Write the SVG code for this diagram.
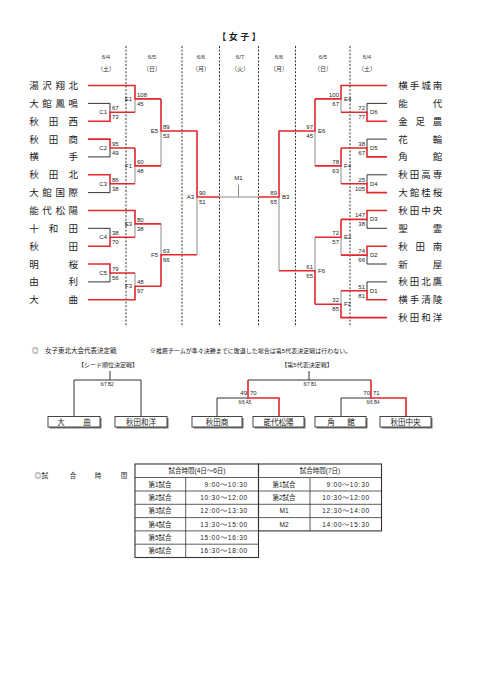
<svg xmlns="http://www.w3.org/2000/svg" width="481" height="680" viewBox="0 0 481 680">
<style>
text{font-family:"Liberation Sans","Noto Sans CJK JP",sans-serif;fill:#222}
.t{font-size:9.5px;text-anchor:middle}
.s{font-size:6px;fill:#333}
.e{text-anchor:end}
.m{text-anchor:middle}
.d{font-size:6px;text-anchor:middle;fill:#333}
.r{stroke:#e3262c;stroke-width:1.6;fill:none}
.k{stroke:#333;stroke-width:1;fill:none}
.g{stroke:#8c8c8c;stroke-width:1;fill:none}
.dot{stroke:#333;stroke-width:1;stroke-dasharray:2 1.6;fill:none}
.bx{fill:#fff;stroke:#333;stroke-width:0.9}
.sh{fill:#777}
.bt{font-size:7.5px;text-anchor:middle}
.tb{fill:none;stroke:#333;stroke-width:0.8}
.tt{font-size:6.5px}
.tm{font-size:6.5px;text-anchor:end;letter-spacing:0.8px}
</style>

<g id="header">
<text x="239" y="40" style="font-size:9px;font-weight:bold" class="m">【 女 子 】</text>
<g class="dot">
<path d="M126 46V327M182 46V327M219.5 46V327M258.5 46V327M295.5 46V327M350 46V327"/>
</g>
<text class="d" x="106" y="59">6/4</text><text class="d" x="106" y="71">（土）</text>
<text class="d" x="152" y="59">6/5</text><text class="d" x="152" y="71">（日）</text>
<text class="d" x="201" y="59">6/6</text><text class="d" x="201" y="71">（月）</text>
<text class="d" x="240" y="59">6/7</text><text class="d" x="240" y="71">（火）</text>
<text class="d" x="279" y="59">6/6</text><text class="d" x="279" y="71">（月）</text>
<text class="d" x="323" y="59">6/5</text><text class="d" x="323" y="71">（日）</text>
<text class="d" x="367" y="59">6/4</text><text class="d" x="367" y="71">（土）</text>
</g>

<g id="connectors">
<path class="k" d="M88 103.4H110V112.3M88 156.9H110V148M88 192.6H110V183.7M88 228.3H110V237.25M88 281.9H110V272.95"/>
<path class="g" d="M135 98.9V112.3M135 165.85V183.7M161 131V165.85M197 197V254.8M135 223.9V237.25M135 272.95V286.3M161 223.9V254.8M219.5 197H258.5M238.5 185V197"/>
<path class="r" d="M88 85.5H135V98.9H161M88 121.2H110V112.3H135M88 139.1H110V148H135M88 174.8H110V183.7H135M135 148V165.85H161M161 98.9V131H197V197H219.5M88 210.5H135V223.9H161M88 246.2H110V237.25H135M88 264H110V272.95H135M88 299.7H135V286.3H161M161 286.3V254.8H197"/>
<path class="k" d="M387 103.4H367V112.3M387 139.1H367V148M387 174.8H367V183.7M387 228.3H367V219.4M387 264H367V255.1M387 281.9H367V290.8"/>
<path class="g" d="M341 98.9V112.3M341 165.85V183.7M315 131V165.85M279 197V270.7M341 237.25V255.1M341 290.8V304.2M315 237.25V270.7"/>
<path class="r" d="M387 85.5H341V98.9H315M387 121.2H367V112.3H341M387 156.9H367V148H341M387 192.6H367V183.7H341M341 148V165.85H315M315 98.9V131H279V197H258.5M387 210.5H367V219.4H341M387 246.2H367V255.1H341M341 219.4V237.25H315M387 299.7H367V290.8H341M387 317.6H341V304.2H315M315 304.2V270.7H279"/>
</g>

<g id="scores" class="s">
<text x="112" y="110.3">67</text><text x="112" y="119.3">73</text>
<text x="112" y="146">95</text><text x="112" y="155">49</text>
<text x="112" y="181.7">86</text><text x="112" y="190.7">38</text>
<text x="112" y="235.25">38</text><text x="112" y="244.25">70</text>
<text x="112" y="270.95">79</text><text x="112" y="279.95">56</text>
<text x="137" y="96.9">108</text><text x="137" y="105.9">45</text>
<text x="137" y="163.85">60</text><text x="137" y="172.85">48</text>
<text x="137" y="221.9">80</text><text x="137" y="230.9">38</text>
<text x="137" y="284.3">48</text><text x="137" y="293.3">97</text>
<text x="163" y="129">89</text><text x="163" y="138">53</text>
<text x="163" y="252.8">63</text><text x="163" y="261.8">66</text>
<text x="199" y="195">90</text><text x="199" y="204">51</text>
<g class="e">
<text x="107" y="114.3">C1</text><text x="107" y="150">C2</text><text x="107" y="185.7">C3</text><text x="107" y="239.25">C4</text><text x="107" y="274.95">C5</text>
<text x="132" y="100.9">E1</text><text x="132" y="167.85">F1</text><text x="132" y="225.9">E3</text><text x="132" y="288.3">F3</text>
<text x="158" y="133">E5</text><text x="158" y="256.8">F5</text>
<text x="194" y="199">A3</text>
<text x="365" y="110.3">72</text><text x="365" y="119.3">77</text>
<text x="365" y="146">38</text><text x="365" y="155">67</text>
<text x="365" y="181.7">25</text><text x="365" y="190.7">105</text>
<text x="365" y="217.4">147</text><text x="365" y="226.4">38</text>
<text x="365" y="253.1">74</text><text x="365" y="262.1">66</text>
<text x="365" y="288.8">51</text><text x="365" y="297.8">81</text>
<text x="339" y="96.9">100</text><text x="339" y="105.9">67</text>
<text x="339" y="163.85">78</text><text x="339" y="172.85">63</text>
<text x="339" y="235.25">72</text><text x="339" y="244.25">57</text>
<text x="339" y="302.2">32</text><text x="339" y="311.2">85</text>
<text x="313" y="129">97</text><text x="313" y="138">45</text>
<text x="313" y="268.7">61</text><text x="313" y="277.7">65</text>
<text x="277" y="195">89</text><text x="277" y="204">65</text>
</g>
<text x="370" y="114.3">D6</text><text x="370" y="150">D5</text><text x="370" y="185.7">D4</text><text x="370" y="221.4">D3</text><text x="370" y="257.1">D2</text><text x="370" y="292.8">D1</text>
<text x="344" y="100.9">E4</text><text x="344" y="167.85">F4</text><text x="344" y="239.25">E2</text><text x="344" y="306.2">F2</text>
<text x="318" y="133">E6</text><text x="318" y="272.7">F6</text>
<text x="282" y="199">B3</text>
<text x="238.5" y="180" class="m">M1</text>
</g>

<g id="teams-left" class="t">
<g id="t-yuzawashohoku"><text x="34 47 60.2 73.3" y="89">湯沢翔北</text></g>
<g id="t-odatehomei"><text x="34 47 60.2 73.3" y="106.9">大館鳳鳴</text></g>
<g id="t-akitanishi"><text x="34 53.6 73.3" y="124.7">秋田西</text></g>
<g id="t-akitasho"><text x="34 53.6 73.3" y="142.6">秋田商</text></g>
<g id="t-yokote"><text x="34 73.3" y="160.4">横手</text></g>
<g id="t-akitakita"><text x="34 53.6 73.3" y="178.3">秋田北</text></g>
<g id="t-odatekokusai"><text x="34 47 60.2 73.3" y="196.1">大館国際</text></g>
<g id="t-noshiroshoyo"><text x="34 47 60.2 73.3" y="214">能代松陽</text></g>
<g id="t-towada"><text x="34 53.6 73.3" y="231.8">十和田</text></g>
<g id="t-akita"><text x="34 73.3" y="249.7">秋田</text></g>
<g id="t-meio"><text x="34 73.3" y="267.5">明桜</text></g>
<g id="t-yuri"><text x="34 73.3" y="285.4">由利</text></g>
<g id="t-omagari"><text x="34 73.3" y="303.2">大曲</text></g>
</g>

<g id="teams-right" class="t">
<g id="t-yokotejonan"><text x="403 414.5 426 437.5" y="89">横手城南</text></g>
<g id="t-noshiro"><text x="403 437.5" y="106.9">能代</text></g>
<g id="t-kanaashino"><text x="403 420.2 437.5" y="124.7">金足農</text></g>
<g id="t-hanawa"><text x="403 437.5" y="142.6">花輪</text></g>
<g id="t-kakunodate"><text x="403 437.5" y="160.4">角館</text></g>
<g id="t-akitakosen"><text x="403 414.5 426 437.5" y="178.3">秋田高専</text></g>
<g id="t-odatekeio"><text x="403 414.5 426 437.5" y="196.1">大館桂桜</text></g>
<g id="t-akitachuo"><text x="403 414.5 426 437.5" y="214">秋田中央</text></g>
<g id="t-seirei"><text x="403 437.5" y="231.8">聖霊</text></g>
<g id="t-akitaminami"><text x="403 420.2 437.5" y="249.7">秋田南</text></g>
<g id="t-araya"><text x="403 437.5" y="267.5">新屋</text></g>
<g id="t-akitahokuyo"><text x="403 414.5 426 437.5" y="285.4">秋田北鷹</text></g>
<g id="t-yokoteseiryo"><text x="403 414.5 426 437.5" y="303.2">横手清陵</text></g>
<g id="t-akitawayo"><text x="403 414.5 426 437.5" y="321.1">秋田和洋</text></g>
</g>

<g id="rep-section">
<text x="32" y="352.5" style="font-size:6.5px">◎　女子東北大会代表決定戦</text>
<text x="150" y="352.5" style="font-size:6px">※推薦チームが準々決勝までに敗退した場合は第5代表決定戦は行わない。</text>
<text x="108" y="366.5" class="m" style="font-size:6px">【シード順位決定戦】</text>
<text x="307" y="366.5" class="m" style="font-size:6px">【第5代表決定戦】</text>
<g id="rep-connectors">
<path class="k" d="M110 371V380M74 416.5V380H141V416.5"/>
<path class="k" d="M309 371V380M248 380H371M217 416.5V398H248M341 416.5V398H371"/>
<path class="r" d="M248 380V398H279V416.5M371 380V398H406V416.5"/>
</g>
<g class="s m" style="font-size:4.5px">
<text x="107" y="385.5">6/7  B2</text>
<text x="310" y="385.5">6/7  B1</text>
<text x="245" y="403.5">6/6  A5</text>
<text x="373" y="403.5">6/6  B4</text>
</g>
<g class="s">
<text x="247" y="394.5" class="e">49</text><text x="250" y="394.5">70</text>
<text x="370" y="394.5" class="e">70</text><text x="373" y="394.5">71</text>
</g>
<g id="b-omagari"><rect class="sh" x="49.5" y="418" width="52" height="10.5"/><rect class="bx" x="48" y="416.5" width="52" height="10.5"/><text class="bt" x="61 87" y="424.8">大曲</text></g>
<g id="b-akitawayo"><rect class="sh" x="116.5" y="418" width="52" height="10.5"/><rect class="bx" x="115" y="416.5" width="52" height="10.5"/><text class="bt" x="141" y="424.8">秋田和洋</text></g>
<g id="b-akitasho"><rect class="sh" x="193.5" y="418" width="50" height="10.5"/><rect class="bx" x="192" y="416.5" width="50" height="10.5"/><text class="bt" x="217" y="424.8">秋田商</text></g>
<g id="b-noshiroshoyo"><rect class="sh" x="254.5" y="418" width="51" height="10.5"/><rect class="bx" x="253" y="416.5" width="51" height="10.5"/><text class="bt" x="278.5" y="424.8">能代松陽</text></g>
<g id="b-kakunodate"><rect class="sh" x="316.5" y="418" width="51" height="10.5"/><rect class="bx" x="315" y="416.5" width="51" height="10.5"/><text class="bt" x="331 351" y="424.8">角館</text></g>
<g id="b-akitachuo"><rect class="sh" x="381.5" y="418" width="51" height="10.5"/><rect class="bx" x="380" y="416.5" width="51" height="10.5"/><text class="bt" x="405.5" y="424.8">秋田中央</text></g>
</g>

<g id="schedule">
<text x="38 45 73 98 124" y="477.5" class="m" style="font-size:6.5px">◎試合時間</text>
<g class="tb">
<rect x="135" y="464" width="123.5" height="93.5" style="stroke-width:1.1"/>
<path d="M135 477.5H258.5M135 491H258.5M135 504.3H258.5M135 517.6H258.5M135 530.9H258.5M135 544.2H258.5M185.7 477.5V557.5"/>
<rect x="258.5" y="464" width="123" height="66.9" style="stroke-width:1.1"/>
<path d="M258.5 477.5H381.5M258.5 491H381.5M258.5 504.3H381.5M258.5 517.6H381.5M310 477.5V530.9"/>
</g>
<g class="tt m">
<text x="197" y="473">試合時間(4日～6日)</text>
<text x="160" y="486.5">第1試合</text><text x="160" y="499.9">第2試合</text><text x="160" y="513.2">第3試合</text><text x="160" y="526.5">第4試合</text><text x="160" y="539.8">第5試合</text><text x="160" y="553.1">第6試合</text>
<text x="320" y="473">試合時間(7日)</text>
<text x="284" y="486.5">第1試合</text><text x="284" y="499.9">第2試合</text><text x="284" y="513.2">M1</text><text x="284" y="526.5">M2</text>
</g>
<g class="tm">
<text x="248" y="486.5">9:00～10:30</text><text x="248" y="499.9">10:30～12:00</text><text x="248" y="513.2">12:00～13:30</text><text x="248" y="526.5">13:30～15:00</text><text x="248" y="539.8">15:00～16:30</text><text x="248" y="553.1">16:30～18:00</text>
<text x="370" y="486.5">9:00～10:30</text><text x="370" y="499.9">10:30～12:00</text><text x="370" y="513.2">12:30～14:00</text><text x="370" y="526.5">14:00～15:30</text>
</g>
</g>
</svg>
